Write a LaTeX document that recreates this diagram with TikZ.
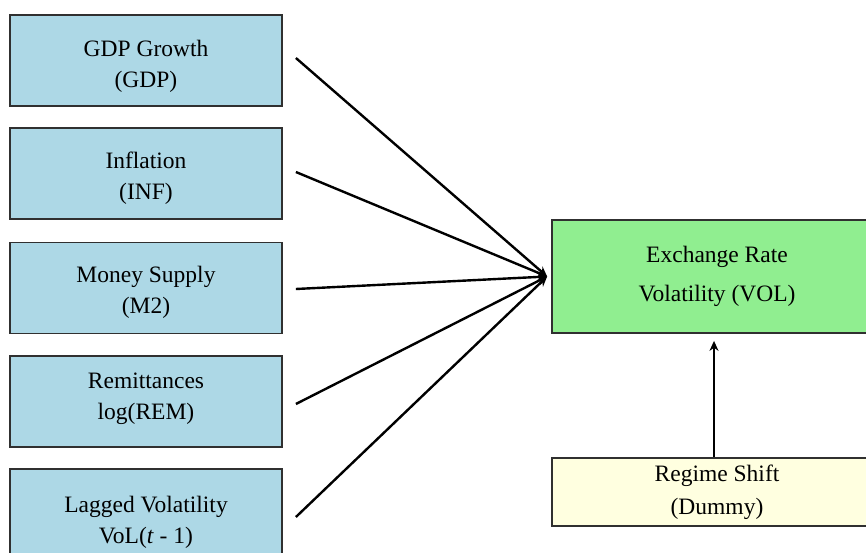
\documentclass[tikz,border=0pt]{standalone}
\usepackage{fontspec}
\setmainfont{Liberation Serif}
\usetikzlibrary{arrows.meta}
\definecolor{boxblue}{HTML}{ADD8E6}
\definecolor{boxgreen}{HTML}{90EE90}
\definecolor{boxyellow}{HTML}{FFFFE0}
\definecolor{edgegray}{HTML}{303030}
\tikzset{
  basebox/.style={draw=edgegray, line width=1.8pt, align=center, inner sep=0pt},
  varbox/.style={basebox, fill=boxblue, minimum width=272pt, minimum height=91pt, font=\fontsize{23.5}{31}\selectfont, text height=#1, text depth=6pt},
  outbox/.style={basebox, fill=boxgreen, minimum width=330pt, minimum height=113pt, font=\fontsize{23.5}{39}\selectfont},
  dumbox/.style={basebox, fill=boxyellow, minimum width=330pt, minimum height=68pt, font=\fontsize{23.5}{33}\selectfont},
  conn/.style={line width=2.4pt, -{Stealth[length=10pt,width=9pt]}}
}
\begin{document}
\begin{tikzpicture}[x=1pt,y=-1pt]
\useasboundingbox (0,0) rectangle (866,553);
\clip (0,0) rectangle (866,553);
\node[varbox=61pt] (b1) at (146,60.5) {GDP Growth\\(GDP)};
\node[varbox=59pt] (b2) at (146,173.5) {Inflation\\(INF)};
\node[varbox=56pt] (b3) at (146,288) {Money Supply\\(M2)};
\node[varbox=41pt] (b4) at (146,401.5) {Remittances\\log(REM)};
\node[varbox=63pt] (b5) at (146,514.5) {Lagged Volatility\\VoL(\textit{t} - 1)};
\node[outbox] (vol) at (717,276.5) {Exchange Rate\\Volatility (VOL)};
\node[dumbox] (reg) at (717,492) {Regime Shift\\(Dummy)};
\coordinate (tip) at ([xshift=-4pt]vol.west);
\draw[conn] ([xshift=13pt,yshift=2.5pt]b1.east) -- (tip);
\draw[conn] ([xshift=13pt,yshift=1.5pt]b2.east) -- (tip);
\draw[conn] ([xshift=13pt,yshift=-1pt]b3.east) -- (tip);
\draw[conn] ([xshift=13pt,yshift=-2.5pt]b4.east) -- (tip);
\draw[conn] ([xshift=13pt,yshift=-2.5pt]b5.east) -- (tip);
\draw[conn, shorten >=7pt] ([xshift=-3pt]reg.north) -- ([xshift=-3pt]vol.south);
\end{tikzpicture}
\end{document}
